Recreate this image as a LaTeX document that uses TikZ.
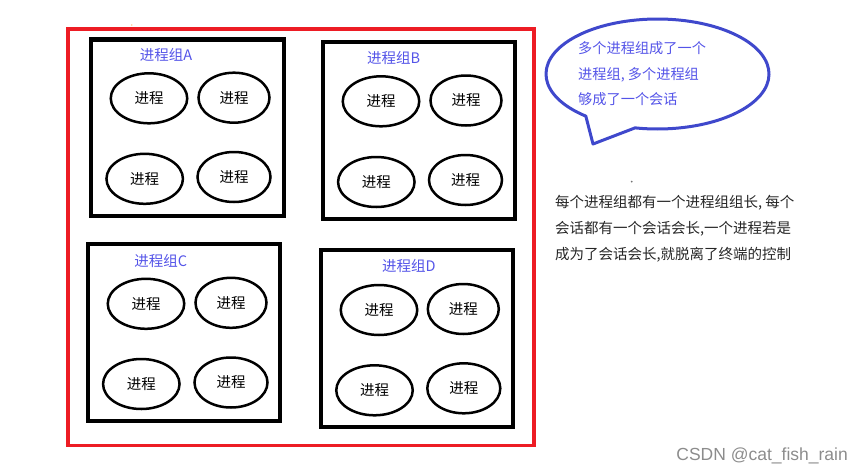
\documentclass[tikz,border=0pt]{standalone}
\usepackage{fontspec}
\setmainfont{Noto Sans CJK SC}
\newfontfamily\wmfont{Liberation Sans}
\usetikzlibrary{shapes.geometric}
\usetikzlibrary{calc}
\definecolor{paintred}{RGB}{237,28,36}
\definecolor{bubbleblue}{RGB}{63,72,204}
\definecolor{grouptext}{RGB}{84,84,232}

\begin{document}
\begin{tikzpicture}[x=1pt,y=-1pt,
	proc/.style={draw,shape=ellipse,line width=2.5pt,minimum width=76.5pt,minimum height=50pt,inner sep=0pt,font=\fontsize{14.5}{14.5}\selectfont},
	grpbox/.style={draw,line width=4.3pt},
	glabel/.style={text=grouptext,font=\fontsize{14.5}{14.5}\selectfont}]
	\useasboundingbox (0,0) rectangle (853,471);
	\draw[paintred,line width=3.5pt] (68,29) rectangle (534,445.5);
	\draw[grpbox] (91,39.5) rectangle (284,216);
	\draw (166,55) node(GA) [glabel] {进程组A};
	\draw (149,98.3) node(A1) [proc] {进程};
	\draw (234,97.7) node(A2) [proc,minimum width=71pt] {进程};
	\draw (144.7,178.8) node(A3) [proc] {进程};
	\draw (234,177) node(A4) [proc,minimum width=73pt] {进程};
	\draw[grpbox] (323,42) rectangle (515,219);
	\draw (393.7,57.7) node(GB) [glabel] {进程组B};
	\draw (381,101.3) node(B1) [proc] {进程};
	\draw (466,100.5) node(B2) [proc,minimum width=71pt] {进程};
	\draw (376.3,182) node(B3) [proc] {进程};
	\draw (465.5,180) node(B4) [proc,minimum width=73pt] {进程};
	\draw[grpbox] (88,244) rectangle (280,421);
	\draw (160.8,260.7) node(GC) [glabel] {进程组C};
	\draw (146,303.8) node(C1) [proc] {进程};
	\draw (231,302.8) node(C2) [proc,minimum width=71pt] {进程};
	\draw (141.3,384) node(C3) [proc] {进程};
	\draw (231,382.5) node(C4) [proc,minimum width=73pt] {进程};
	\draw[grpbox] (321,250) rectangle (513,427);
	\draw (408.8,265.7) node(GD) [glabel] {进程组D};
	\draw (379,310) node(D1) [proc] {进程};
	\draw (463.3,309) node(D2) [proc,minimum width=71pt] {进程};
	\draw (374.5,390.3) node(D3) [proc] {进程};
	\draw (463.8,388.3) node(D4) [proc,minimum width=73pt] {进程};
	\coordinate (bub) at (657.5,74);
	\coordinate (tip) at (593,144);
	\draw[bubbleblue,line width=3pt,line join=round] ($(bub)+(130:111.5 and 55)$) arc[start angle=130,end angle=461.6,x radius=111.5,y radius=55] -- (tip) -- cycle;
	\draw (578,73.7) node(note) [anchor=west,align=left,inner sep=0pt,text=grouptext,font=\fontsize{14.2}{25.5}\selectfont] {多个进程组成了一个\\进程组, 多个进程组\\够成了一个会话};
	\draw (555,229) node(rule) [anchor=west,align=left,inner sep=0pt,text=black!85,font=\fontsize{14.5}{26}\selectfont] {每个进程组都有一个进程组组长, 每个\\会话都有一个会话会长,一个进程若是\\成为了会话会长,就脱离了终端的控制};
	\fill[black!55] (631.7,181.7) circle[radius=1];
	\fill[orange!40] (131.7,25) circle[radius=0.8];
	\draw (848,460) node(mark) [anchor=base east,inner sep=0pt,text=black!45,font=\wmfont\fontsize{17.5}{17.5}\selectfont] {CSDN @cat\_fish\_rain};
\end{tikzpicture}
\end{document}
